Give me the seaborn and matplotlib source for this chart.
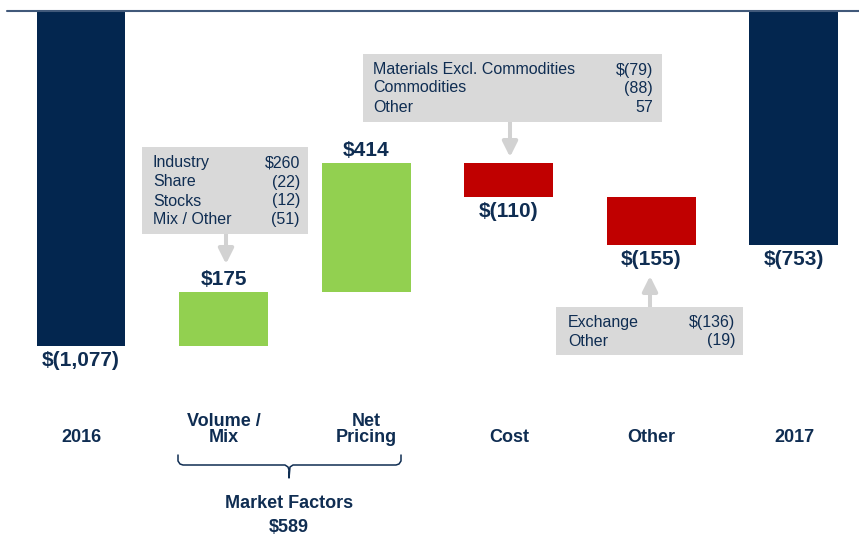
import matplotlib.pyplot as plt
import matplotlib.patches as mpatches
from matplotlib.lines import Line2D
import pandas as pd
import seaborn as sns

# Chart data
categories = ["2016", "Volume /\nMix", "Net\nPricing", "Cost", "Other", "2017"]
changes = [-1077, 175, 414, -110, -155, -753]
is_total = [True, False, False, False, False, True]
value_labels = ["$(1,077)", "$175", "$414", "$(110)", "$(155)", "$(753)"]

volume_items = ["Industry", "Share", "Stocks", "Mix / Other"]
volume_amounts = ["$260", "(22)", "(12)", "(51)"]
cost_items = ["Materials Excl. Commodities", "Commodities", "Other"]
cost_amounts = ["$(79)", "(88)", "57"]
other_items = ["Exchange", "Other"]
other_amounts = ["$(136)", "(19)"]
market_label = "Market Factors"
market_total = "$589"

# Colours
NAVY = "#03264f"
GREEN = "#92d050"
RED = "#c00000"
TEXT = "#0f2d52"
BOX = "#d9d9d9"
ARROW = "#d2d2d2"
bar_colors = [NAVY, GREEN, GREEN, RED, RED, NAVY]

W, H = 859, 537


def fpx(x, y):
    # pixel position (from top-left) -> figure fraction
    return x / W, 1 - y / H


# Waterfall bottoms
bottoms = []
running = 0
for chg, total in zip(changes, is_total):
    if total:
        bottoms.append(0)
        running = chg
    else:
        bottoms.append(running)
        running += chg

df = pd.DataFrame({"category": categories, "change": changes, "bottom": bottoms})

sns.set_style("white")
plt.rcParams["font.family"] = ["Liberation Sans", "DejaVu Sans"]

fig = plt.figure(figsize=(W / 100, H / 100), dpi=100)
ax = fig.add_axes([0, 0, 1, 1])

sns.barplot(data=df, x="category", y="change", bottom=df["bottom"].values,
            color=NAVY, saturation=1, width=0.624, errorbar=None, linewidth=0, ax=ax)
for patch, col in zip(ax.patches, bar_colors):
    patch.set_facecolor(col)

ax.set_xlim(-0.568, 5.456)
ax.set_ylim(-1691, 35.4)
ax.axis("off")
ax.axhline(0, xmin=7 / W, xmax=1, color="#41597a", lw=1.5)

# value labels
for i, (chg, bot, lab) in enumerate(zip(changes, bottoms, value_labels)):
    end = bot + chg
    if chg > 0:
        ax.annotate(lab, xy=(i, end), xytext=(0, 8.5), textcoords="offset points",
                    ha="center", va="center", fontsize=15, fontweight="bold", color=TEXT)
    else:
        ax.annotate(lab, xy=(i, end), xytext=(0, -10.5), textcoords="offset points",
                    ha="center", va="center", fontsize=15, fontweight="bold", color=TEXT)

# category labels
for i, cat in enumerate(categories):
    ax.text(i, 1 - 446 / H, cat, transform=ax.get_xaxis_transform(), ha="center",
            va="bottom", fontsize=13, fontweight="bold", color=TEXT, linespacing=0.95)


# detail boxes
def detail_box(x0, y0, x1, y1, text_left, text_right, line_ys, items, amounts):
    fx, fy = fpx(x0, y1)
    rect = mpatches.Rectangle((fx, fy), (x1 - x0) / W, (y1 - y0) / H,
                              transform=fig.transFigure, facecolor=BOX, edgecolor="none")
    fig.add_artist(rect)
    for yy, item, amt in zip(line_ys, items, amounts):
        fig.text(*fpx(text_left, yy), item, ha="left", va="center", fontsize=11.5, color=TEXT)
        fig.text(*fpx(text_right, yy), amt, ha="right", va="center", fontsize=11.5, color=TEXT)


def arrow(x, y_from, y_to):
    ax.annotate("", xy=fpx(x, y_to), xytext=fpx(x, y_from),
                xycoords="figure fraction", textcoords="figure fraction",
                arrowprops=dict(arrowstyle="-|>,head_width=0.45,head_length=0.9",
                                mutation_scale=10, color=ARROW, lw=2.9,
                                shrinkA=0, shrinkB=0))


detail_box(142, 147, 308, 234, 153, 300, [163, 182, 201, 219], volume_items, volume_amounts)
arrow(226, 234, 264)
detail_box(363, 54, 662, 122, 373, 653, [70, 88, 107], cost_items, cost_amounts)
arrow(510, 122, 157)
detail_box(556, 307, 743, 355, 568, 735, [323, 341], other_items, other_amounts)
arrow(650, 307, 276)

# brace under Volume / Net Pricing
bx = [178, 178, 180, 183, 285, 288, 289, 289, 290, 293, 396, 399, 401, 401]
by = [455, 461, 464, 465, 465, 467, 470, 478, 467, 465, 465, 464, 461, 455]
brace = Line2D([x / W for x in bx], [1 - y / H for y in by], transform=fig.transFigure,
               color=TEXT, lw=1.1)
fig.add_artist(brace)
fig.text(*fpx(289, 503), market_label, ha="center", va="center", fontsize=13,
         fontweight="bold", color=TEXT)
fig.text(*fpx(289, 527), market_total, ha="center", va="center", fontsize=13,
         fontweight="bold", color=TEXT)

fig.savefig("out.png", dpi=100)
